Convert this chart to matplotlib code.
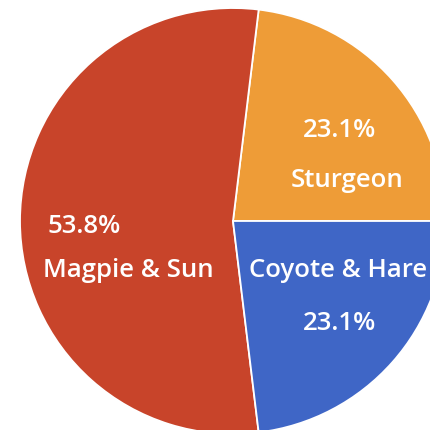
import matplotlib.pyplot as plt

# shares of the stories (counts out of 13)
labels = ["Sturgeon", "Magpie & Sun", "Coyote & Hare"]
counts = [3, 7, 3]
colors = ["#EE9C37", "#C8442A", "#3F66C6"]

total = sum(counts)
pcts = [100 * c / total for c in counts]

fig = plt.figure(figsize=(4.30, 4.31), dpi=100)
ax = fig.add_axes([0, 0, 1, 1])

ax.pie(counts, colors=colors, startangle=0, counterclock=True,
       radius=1.0, wedgeprops=dict(edgecolor="white", linewidth=1.3))

ax.set_aspect("equal")
ax.set_xlim(-1.094, 0.925)
ax.set_ylim(-0.981, 1.042)
ax.axis("off")

font = dict(family="Open Sans", color="white", fontsize=18.5,
            weight="semibold", va="baseline")

# Sturgeon: percent above name
ax.text(0.502, 0.399, f"{pcts[0]:.1f}%", ha="center", **font)
ax.text(0.535, 0.164, labels[0], ha="center", **font)
# Magpie & Sun: left aligned block
ax.text(-0.869, -0.052, f"{pcts[1]:.1f}%", ha="left", **font)
ax.text(-0.892, -0.258, labels[1], ha="left", **font)
# Coyote & Hare: name above percent
ax.text(0.493, -0.258, labels[2], ha="center", **font)
ax.text(0.502, -0.507, f"{pcts[2]:.1f}%", ha="center", **font)

fig.savefig("out.png", dpi=100)
